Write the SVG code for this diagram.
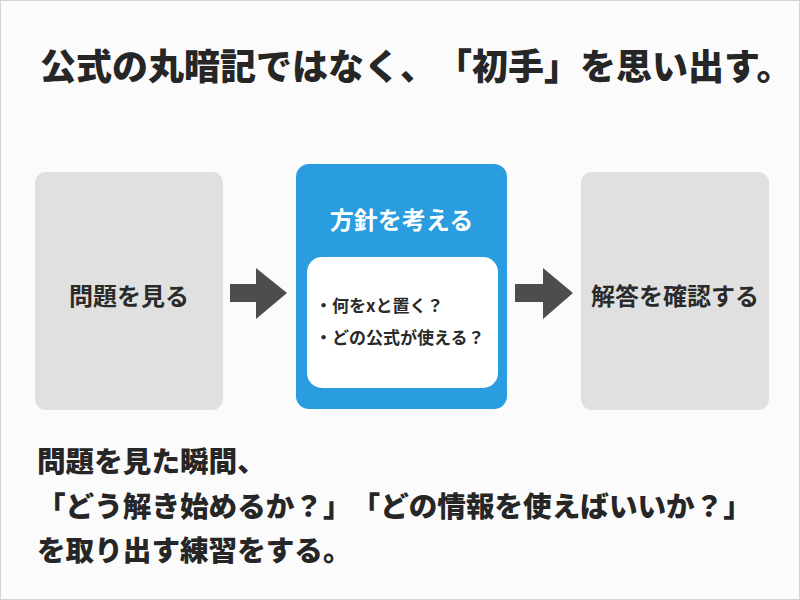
<svg xmlns="http://www.w3.org/2000/svg" width="800" height="600" viewBox="0 0 800 600">
  <style>
    text { font-family: "Noto Sans CJK JP", "Noto Sans", sans-serif; text-spacing-trim: space-all; }
    .title { font-size: 36px; font-weight: 900; fill: #262626; }
    .body { font-size: 28.6px; font-weight: 900; fill: #262626; }
    .gray-box { fill: #e0e0e0; }
    .label { font-size: 24px; font-weight: 700; fill: #2a2a2a; text-anchor: middle; }
    .blue-box { fill: #2a9ce0; }
    .blue-title { font-size: 24px; font-weight: 700; fill: #ffffff; text-anchor: middle; }
    .inner { fill: #ffffff; }
    .bullet { font-size: 17px; font-weight: 700; fill: #2a2a2a; }
    .arrow { fill: #4d4d4d; }
  </style>
  <rect x="0.5" y="0.5" width="799" height="599" fill="#fbfbfb" stroke="#d4d4d4" stroke-width="1"/>

  <g id="title">
    <text class="title" x="40" y="80">公式の丸暗記ではなく、「初手」を思い出す。</text>
  </g>

  <g id="node-see">
    <rect class="gray-box" x="35" y="172" width="188" height="238" rx="11"/>
    <text class="label" x="129" y="305">問題を見る</text>
  </g>

  <g id="node-plan">
    <rect class="blue-box" x="296" y="164" width="211" height="245" rx="13"/>
    <text class="blue-title" x="401.5" y="229">方針を考える</text>
    <rect class="inner" x="307" y="257" width="191" height="131" rx="15"/>
    <text class="bullet" x="315" y="312">・何をxと置く？</text>
    <text class="bullet" x="315" y="344">・どの公式が使える？</text>
  </g>

  <g id="node-check">
    <rect class="gray-box" x="581" y="172" width="188" height="238" rx="11"/>
    <text class="label" x="675" y="305">解答を確認する</text>
  </g>

  <g id="connectors">
    <polygon class="arrow" points="230,284 256,284 256,268 287,293 256,319 256,302 230,302"/>
    <polygon class="arrow" points="515,284 543,284 543,268 573,293 543,319 543,302 515,302"/>
  </g>

  <g id="summary">
    <text class="body" x="37" y="472">問題を見た瞬間、</text>
    <text class="body" x="37" y="517">「どう解き始めるか？」「どの情報を使えばいいか？」</text>
    <text class="body" x="37" y="561">を取り出す練習をする。</text>
  </g>
</svg>
